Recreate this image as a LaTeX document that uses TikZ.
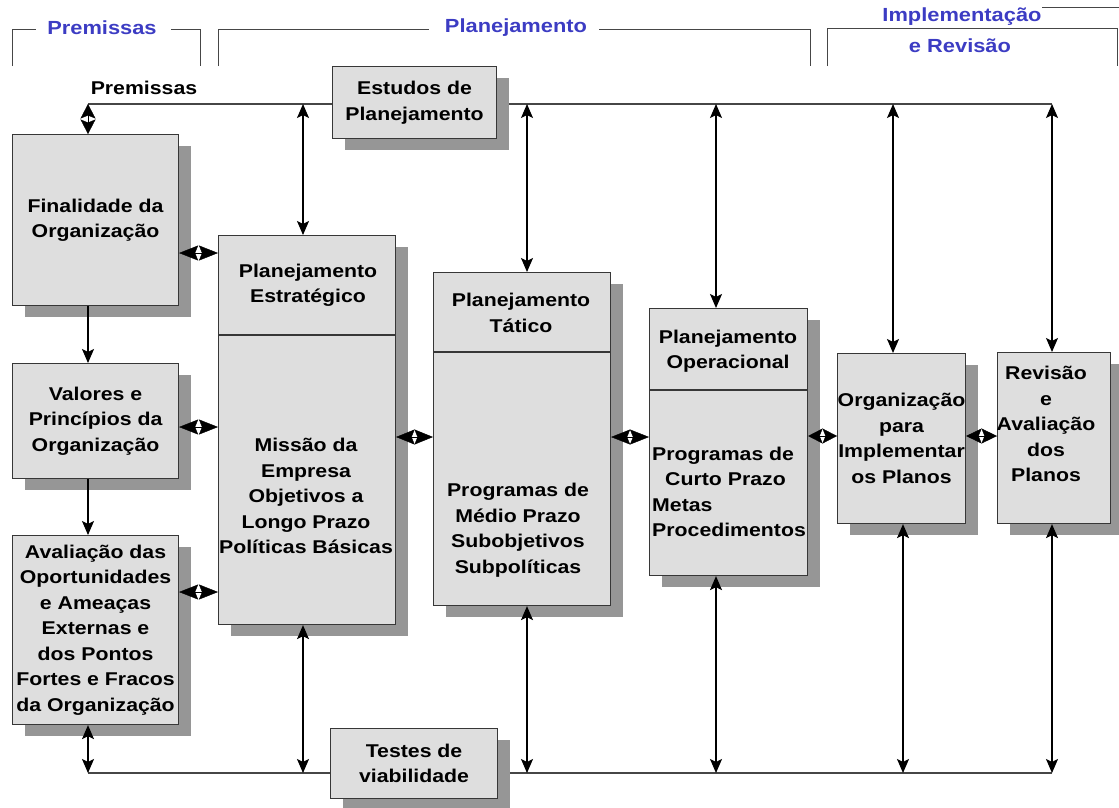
\documentclass[tikz,border=0pt]{standalone}
\usepackage{fontspec}
\setmainfont{Liberation Sans}[FakeStretch=1.15]
\usetikzlibrary{shadows,arrows.meta}
\definecolor{boxfill}{RGB}{222,222,222}
\definecolor{shade}{RGB}{150,150,150}
\definecolor{edge}{RGB}{55,55,55}
\definecolor{hdrblue}{RGB}{60,60,195}
\definecolor{linec}{RGB}{70,70,70}
\newcommand{\boxfont}{\fontsize{18.5}{25.5}\selectfont\bfseries}
\newcommand{\hdrfont}{\fontsize{19}{25}\selectfont\bfseries}
\begin{document}
\begin{tikzpicture}[x=1pt,y=-1pt,
  box/.style={draw=edge, line width=1.1pt, fill=boxfill, anchor=north west, inner sep=0pt, align=center, font=\boxfont,
    drop shadow={shadow xshift=12pt, shadow yshift=-11pt, fill=shade, opacity=1}},
  lbl/.style={font=\boxfont, align=center, inner sep=0pt},
  bus/.style={draw=linec, line width=1.3pt},
  arr/.style={draw=black, line width=1.3pt, arrows={Stealth[length=14pt,width=12pt,inset=3pt]-Stealth[length=14pt,width=12pt,inset=3pt]}},
  one/.style={draw=black, line width=1.3pt, arrows={-Stealth[length=14pt,width=12pt,inset=3pt]}},
  dia/.style={draw=black, line width=0.4pt, arrows={Stealth[length=#1,width=15pt,inset=3pt]-Stealth[length=#1,width=15pt,inset=3pt]}},
  hdr/.style={font=\hdrfont, text=hdrblue, inner sep=0pt},
  brk/.style={draw=linec, line width=1pt},
  divl/.style={draw=edge, line width=1.1pt}
]
\useasboundingbox (0,0) rectangle (1119,807);

% header brackets
\node[hdr] (hp) at (102,28) {Premissas};
\draw[brk] (12,66) -- (12,29) -- (36,29);
\draw[brk] (171,29) -- (200,29) -- (200,66);
\node[hdr] (hpl) at (516,28) {Planejamento};
\draw[brk] (218,66) -- (218,29) -- (429,29);
\draw[brk] (599,29) -- (810,29) -- (810,66);
\draw[brk] (827,66) -- (827,28) -- (1117,28) -- (1117,66);
\draw[brk] (1042,7) -- (1119,7);
\node[hdr] (him) at (962,17) {Implementação};
\node[hdr] (hrev) at (960,46) {e Revisão};

\node[font=\boxfont, inner sep=0pt] (prem) at (144,88) {Premissas};

% buses
\coordinate (tbL) at (88,104);
\coordinate (tbR) at (1052,104);
\coordinate (bbL) at (88,773);
\coordinate (bbR) at (1052,773);
\draw[bus] (tbL) -- (tbR);
\draw[bus] (bbL) -- (bbR);

% boxes
\node[box, minimum width=164pt, minimum height=72pt] (est) at (332,66) {Estudos de\\Planejamento};
\node[box, minimum width=167pt, minimum height=70pt] (tes) at (330,728) {Testes de\\viabilidade};

\node[box, minimum width=166pt, minimum height=171pt] (fin) at (12,134) {Finalidade da\\Organização};
\node[box, minimum width=166pt, minimum height=115pt] (val) at (12,363) {Valores e\\Princípios da\\Organização};
\node[box, minimum width=166pt, minimum height=189pt] (ava) at (12,535) {Avaliação das\\Oportunidades\\e Ameaças\\Externas e\\dos Pontos\\Fortes e Fracos\\da Organização};

\node[box, minimum width=177pt, minimum height=389pt] (pe) at (218,235) {};
\draw[divl] (pe.west |- 0,335) -- (pe.east |- 0,335);
\node[lbl] (pet) at (308,285) {Planejamento\\Estratégico};
\node[lbl] (peb) at (306,496) {Missão da\\Empresa\\Objetivos a\\Longo Prazo\\Políticas Básicas};

\node[box, minimum width=177pt, minimum height=333pt] (pt) at (433,272) {};
\draw[divl] (pt.west |- 0,352) -- (pt.east |- 0,352);
\node[lbl] (ptt) at (521,313) {Planejamento\\Tático};
\node[lbl] (ptb) at (518,530) {Programas de\\Médio Prazo\\Subobjetivos\\Subpolíticas};

\node[box, minimum width=158pt, minimum height=267pt] (po) at (649,308) {};
\draw[divl] (po.west |- 0,390) -- (po.east |- 0,390);
\node[lbl] (pot) at (728,351) {Planejamento\\Operacional};
\node[lbl, align=left, anchor=west] (pob) at (652,492) {Programas de\\\hspace*{13pt}Curto Prazo\\Metas\\Procedimentos};

\node[box, minimum width=128pt, minimum height=170pt] (org) at (837,353) {Organização\\para\\Implementar\\os Planos};
\node[box, minimum width=113pt, minimum height=171pt] (rev) at (997,352) {};
\node[lbl] (revt) at (1046,424) {Revisão\\e\\Avaliação\\dos\\Planos};

% vertical connections to buses
\coordinate (t1) at (303,104);
\coordinate (t2) at (527,104);
\coordinate (t3) at (716,104);
\coordinate (t4) at (893,104);
\coordinate (t5) at (1052,104);
\coordinate (b1) at (303,773);
\coordinate (b2) at (527,773);
\coordinate (b3) at (716,773);
\coordinate (b4) at (903,773);
\coordinate (b5) at (1052,773);
\draw[arr] (t1) -- (t1 |- pe.north);
\draw[arr] (t2) -- (t2 |- pt.north);
\draw[arr] (t3) -- (t3 |- po.north);
\draw[arr] (t4) -- (t4 |- org.north);
\draw[arr] (t5) -- (t5 |- rev.north);
\draw[arr] (b1 |- pe.south) -- (b1);
\draw[arr] (b2 |- pt.south) -- (b2);
\draw[arr] (b3 |- po.south) -- (b3);
\draw[arr] (b4 |- org.south) -- (b4);
\draw[arr] (b5 |- rev.south) -- (b5);

% left column
\draw[dia=14.5pt] (tbL) -- (tbL |- fin.north);
\draw[one] (tbL |- fin.south) -- (tbL |- val.north);
\draw[one] (tbL |- val.south) -- (tbL |- ava.north);
\draw[arr] (tbL |- ava.south) -- (bbL);

% diamond links
\draw[dia=19pt] (fin.east |- 0,253) -- (pe.west |- 0,253);
\draw[dia=19pt] (val.east |- 0,427) -- (pe.west |- 0,427);
\draw[dia=19pt] (ava.east |- 0,592) -- (pe.west |- 0,592);
\draw[dia=18.5pt] (pe.east |- 0,437) -- (pt.west |- 0,437);
\draw[dia=19pt] (pt.east |- 0,437) -- (po.west |- 0,437);
\draw[dia=14.5pt] (po.east |- 0,436) -- (org.west |- 0,436);
\draw[dia=15.5pt] (org.east |- 0,436) -- (rev.west |- 0,436);
\end{tikzpicture}
\end{document}
